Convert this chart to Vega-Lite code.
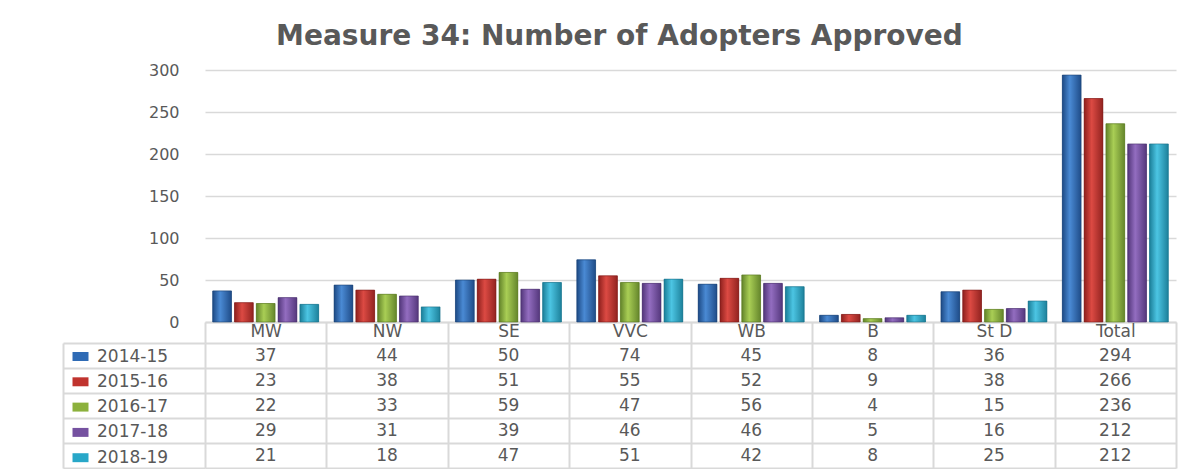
{
  "$schema": "https://vega.github.io/schema/vega-lite/v6.json",
  "background": "white",
  "padding": {"left": 62, "top": 23, "right": 25, "bottom": 0},
  "autosize": {"type": "pad"},
  "title": {"text": "Measure 34: Number of Adopters Approved", "fontSize": 28, "font": "DejaVu Sans", "fontWeight": "bold", "color": "#595959", "anchor": "middle", "offset": 11},
  "config": {"view": {"stroke": null}, "font": "DejaVu Sans"},
  "data": {"values": [
    {"region": "MW", "year": "2014-15", "value": 37},
    {"region": "MW", "year": "2015-16", "value": 23},
    {"region": "MW", "year": "2016-17", "value": 22},
    {"region": "MW", "year": "2017-18", "value": 29},
    {"region": "MW", "year": "2018-19", "value": 21},
    {"region": "NW", "year": "2014-15", "value": 44},
    {"region": "NW", "year": "2015-16", "value": 38},
    {"region": "NW", "year": "2016-17", "value": 33},
    {"region": "NW", "year": "2017-18", "value": 31},
    {"region": "NW", "year": "2018-19", "value": 18},
    {"region": "SE", "year": "2014-15", "value": 50},
    {"region": "SE", "year": "2015-16", "value": 51},
    {"region": "SE", "year": "2016-17", "value": 59},
    {"region": "SE", "year": "2017-18", "value": 39},
    {"region": "SE", "year": "2018-19", "value": 47},
    {"region": "VVC", "year": "2014-15", "value": 74},
    {"region": "VVC", "year": "2015-16", "value": 55},
    {"region": "VVC", "year": "2016-17", "value": 47},
    {"region": "VVC", "year": "2017-18", "value": 46},
    {"region": "VVC", "year": "2018-19", "value": 51},
    {"region": "WB", "year": "2014-15", "value": 45},
    {"region": "WB", "year": "2015-16", "value": 52},
    {"region": "WB", "year": "2016-17", "value": 56},
    {"region": "WB", "year": "2017-18", "value": 46},
    {"region": "WB", "year": "2018-19", "value": 42},
    {"region": "B", "year": "2014-15", "value": 8},
    {"region": "B", "year": "2015-16", "value": 9},
    {"region": "B", "year": "2016-17", "value": 4},
    {"region": "B", "year": "2017-18", "value": 5},
    {"region": "B", "year": "2018-19", "value": 8},
    {"region": "St D", "year": "2014-15", "value": 36},
    {"region": "St D", "year": "2015-16", "value": 38},
    {"region": "St D", "year": "2016-17", "value": 15},
    {"region": "St D", "year": "2017-18", "value": 16},
    {"region": "St D", "year": "2018-19", "value": 25},
    {"region": "Total", "year": "2014-15", "value": 294},
    {"region": "Total", "year": "2015-16", "value": 266},
    {"region": "Total", "year": "2016-17", "value": 236},
    {"region": "Total", "year": "2017-18", "value": 212},
    {"region": "Total", "year": "2018-19", "value": 212}
  ]},
  "spacing": 21,
  "bounds": "flush",
  "resolve": {"scale": {"x": "independent", "y": "independent"}},
  "vconcat": [
    {
      "width": 971,
      "height": 252,
      "encoding": {
        "x": {"field": "region", "type": "nominal", "sort": ["MW", "NW", "SE", "VVC", "WB", "B", "St D", "Total"],
              "scale": {"paddingInner": 0.127, "paddingOuter": 0.0635},
              "axis": {"title": null, "labels": false, "ticks": false, "domainColor": "#D9D9D9", "domainWidth": 2}},
        "xOffset": {"field": "year", "type": "nominal", "sort": ["2014-15", "2015-16", "2016-17", "2017-18", "2018-19"], "scale": {"domain": ["2014-15", "2015-16", "2016-17", "2017-18", "2018-19"], "paddingInner": 0.14}},
        "y": {"field": "value", "type": "quantitative", "scale": {"domain": [0, 300]},
              "axis": {"title": null, "values": [0, 50, 100, 150, 200, 250, 300], "ticks": false, "domain": false, "labelPadding": 26, "labelFontSize": 16, "labelColor": "#595959", "gridColor": "#D9D9D9", "gridWidth": 1.5}}
      },
      "layer": [
        {
          "mark": {"type": "bar"},
          "encoding": {
            "color": {"field": "year", "type": "nominal", "sort": ["2014-15", "2015-16", "2016-17", "2017-18", "2018-19"],
                      "scale": {"range": ["#2F6BB5", "#C0332E", "#8CB13C", "#7551A0", "#28A7C8"]},
                      "legend": {"orient": "none", "legendX": -133, "legendY": 278, "title": null, "symbolType": "M-1,-0.56H1V0.56H-1Z", "symbolSize": 256, "symbolStrokeWidth": 0, "labelFontSize": 17, "labelColor": "#595959", "rowPadding": 7.3, "labelOffset": 8, "padding": 0}}
          }
        },
        {
          "transform": [{"filter": "datum.year == '2014-15'"}],
          "mark": {"type": "bar", "stroke": "#1A3F70", "strokeWidth": 0.6, "color": {"gradient": "linear", "x1": 0, "x2": 1, "y1": 0, "y2": 0, "stops": [{"offset": 0, "color": "#1D4A85"}, {"offset": 0.4, "color": "#4A8AD4"}, {"offset": 1, "color": "#1F4C88"}]}}
        },
        {
          "transform": [{"filter": "datum.year == '2015-16'"}],
          "mark": {"type": "bar", "stroke": "#7A1A18", "strokeWidth": 0.6, "color": {"gradient": "linear", "x1": 0, "x2": 1, "y1": 0, "y2": 0, "stops": [{"offset": 0, "color": "#8E201D"}, {"offset": 0.4, "color": "#DC4A43"}, {"offset": 1, "color": "#922320"}]}}
        },
        {
          "transform": [{"filter": "datum.year == '2016-17'"}],
          "mark": {"type": "bar", "stroke": "#55731F", "strokeWidth": 0.6, "color": {"gradient": "linear", "x1": 0, "x2": 1, "y1": 0, "y2": 0, "stops": [{"offset": 0, "color": "#62832A"}, {"offset": 0.4, "color": "#A9CE55"}, {"offset": 1, "color": "#65862C"}]}}
        },
        {
          "transform": [{"filter": "datum.year == '2017-18'"}],
          "mark": {"type": "bar", "stroke": "#472E69", "strokeWidth": 0.6, "color": {"gradient": "linear", "x1": 0, "x2": 1, "y1": 0, "y2": 0, "stops": [{"offset": 0, "color": "#52367A"}, {"offset": 0.4, "color": "#936DC0"}, {"offset": 1, "color": "#55387D"}]}}
        },
        {
          "transform": [{"filter": "datum.year == '2018-19'"}],
          "mark": {"type": "bar", "stroke": "#176D84", "strokeWidth": 0.6, "color": {"gradient": "linear", "x1": 0, "x2": 1, "y1": 0, "y2": 0, "stops": [{"offset": 0, "color": "#1B7E98"}, {"offset": 0.4, "color": "#4CC5E3"}, {"offset": 1, "color": "#1D819B"}]}}
        }
      ]
    },
    {
      "width": 971,
      "height": 125,
      "mark": {"type": "text", "fontSize": 17, "color": "#595959"},
      "encoding": {
        "x": {"field": "region", "type": "nominal", "sort": ["MW", "NW", "SE", "VVC", "WB", "B", "St D", "Total"],
              "scale": {"paddingInner": 0, "paddingOuter": 0},
              "axis": {"orient": "top", "title": null, "tickBand": "extent", "tickSize": 21, "labelPadding": -18, "labelFontSize": 17, "labelColor": "#595959", "labelAngle": 0, "domain": false, "tickColor": "#D9D9D9", "tickWidth": 2, "grid": true, "gridColor": "#D9D9D9", "gridWidth": 2}},
        "y": {"field": "year", "type": "nominal", "sort": ["2014-15", "2015-16", "2016-17", "2017-18", "2018-19"],
              "scale": {"paddingInner": 0, "paddingOuter": 0},
              "axis": {"title": null, "labels": false, "tickBand": "extent", "offset": 142, "tickSize": -142, "domainColor": "#D9D9D9", "domainWidth": 2, "tickColor": "#D9D9D9", "tickWidth": 2, "grid": true, "gridColor": "#D9D9D9", "gridWidth": 2}},
        "text": {"field": "value", "type": "quantitative"}
      }
    }
  ]
}
